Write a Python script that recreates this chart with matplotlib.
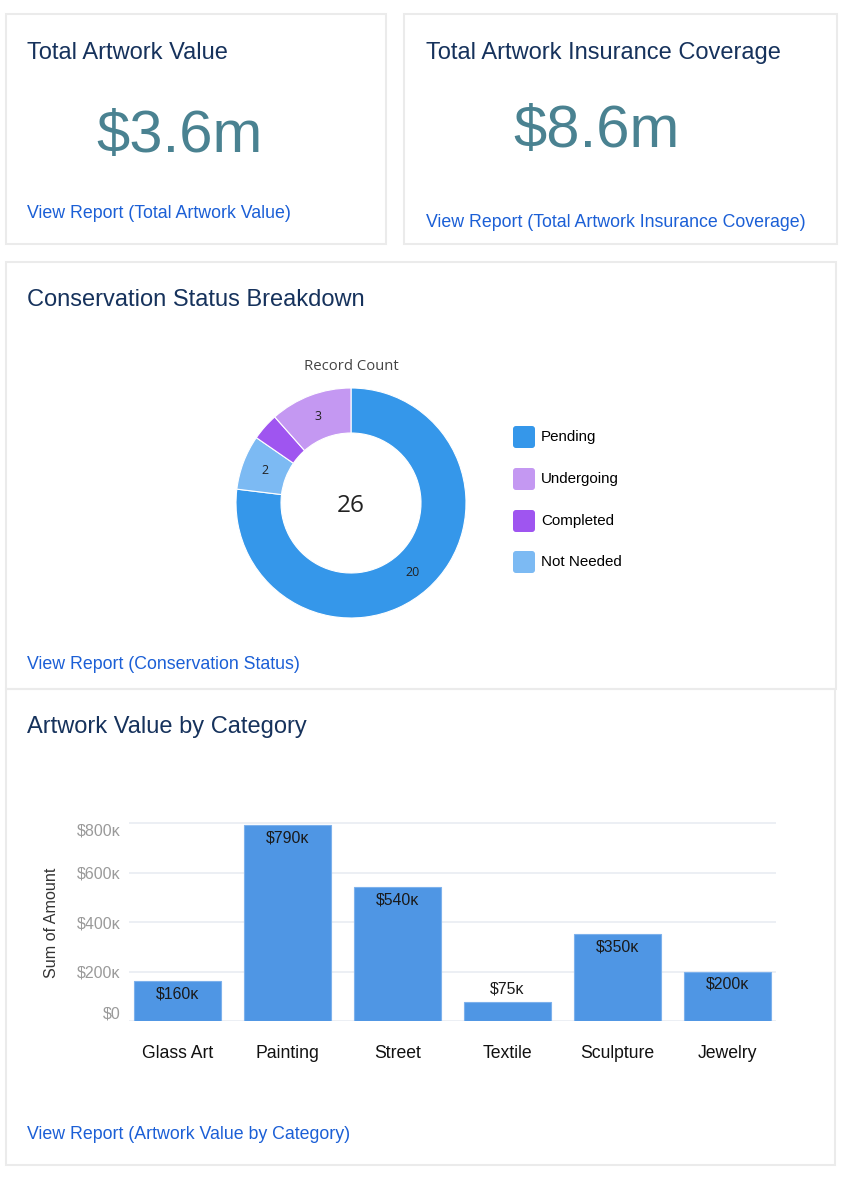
import matplotlib
matplotlib.use("Agg")
import matplotlib.pyplot as plt
import numpy as np
from matplotlib.patches import Rectangle, FancyBboxPatch

plt.rcParams['font.family'] = ['Liberation Sans', 'DejaVu Sans']

# ---------------- data ----------------
total_value_label = "$3.6m"
total_insurance_label = "$8.6m"

status_labels = ["Pending", "Undergoing", "Completed", "Not Needed"]
status_counts = [20, 3, 1, 2]
status_colors = ["#3597ea", "#c498f2", "#9f55f0", "#7cbaf3"]
pie_order = [0, 3, 2, 1]  # clockwise from 12 o'clock

categories = ["Glass Art", "Painting", "Street", "Textile", "Sculpture", "Jewelry"]
amounts = [160000, 790000, 540000, 75000, 350000, 200000]
ytick_values = [0, 200000, 400000, 600000, 800000]
ytick_labels = ["$0", "$200ᴋ", "$400ᴋ", "$600ᴋ", "$800ᴋ"]
bar_labels = ["$160ᴋ", "$790ᴋ", "$540ᴋ", "$75ᴋ", "$350ᴋ", "$200ᴋ"]

W, H = 868, 1182
fig = plt.figure(figsize=(W / 100, H / 100), dpi=100)
fig.patch.set_facecolor("white")

# overlay axes in pixel coordinates
bg = fig.add_axes([0, 0, 1, 1])
bg.set_xlim(0, W)
bg.set_ylim(H, 0)
bg.axis("off")

TITLE = "#16325c"
BIG = "#4a8291"
LINK = "#1b5fd6"
BORDER = "#ebebeb"

for (x, y, w, h) in [(6, 14, 380, 230), (404, 14, 433, 230), (6, 262, 830, 427), (6, 689, 829, 476)]:
    bg.add_patch(Rectangle((x, y), w, h, fill=False, edgecolor=BORDER, linewidth=1.5))

TS = 17.0
LS = 12.8
# card 1
bg.text(27, 59, "Total Artwork Value", color=TITLE, fontsize=TS, va="baseline", ha="left")
bg.text(180, 152, total_value_label, color=BIG, fontsize=43, va="baseline", ha="center")
bg.text(27, 218, "View Report (Total Artwork Value)", color=LINK, fontsize=LS, va="baseline", ha="left")
# card 2
bg.text(426, 59, "Total Artwork Insurance Coverage", color=TITLE, fontsize=TS, va="baseline", ha="left")
bg.text(597, 147, total_insurance_label, color=BIG, fontsize=43, va="baseline", ha="center")
bg.text(426, 227, "View Report (Total Artwork Insurance Coverage)", color=LINK, fontsize=LS, va="baseline", ha="left")
# card 3
bg.text(27, 306, "Conservation Status Breakdown", color=TITLE, fontsize=TS, va="baseline", ha="left")
bg.text(351, 370, "Record Count", color="#444444", fontsize=10.7, va="baseline", ha="center",
        family=["Open Sans", "DejaVu Sans"])
bg.text(27, 669, "View Report (Conservation Status)", color=LINK, fontsize=LS, va="baseline", ha="left")
# card 4
bg.text(27, 733, "Artwork Value by Category", color=TITLE, fontsize=TS, va="baseline", ha="left")
bg.text(27, 1139, "View Report (Artwork Value by Category)", color=LINK, fontsize=LS, va="baseline", ha="left")
bg.text(52, 923, "Sum of Amount", color="#333333", fontsize=11.6, rotation=90, va="center", ha="center")

# legend (manual rounded squares)
leg_y = [437, 479, 521, 562]
for i, (lab, col) in enumerate(zip(status_labels, status_colors)):
    bg.add_patch(FancyBboxPatch((515, leg_y[i] - 9), 18, 18, boxstyle="round,pad=2,rounding_size=3",
                                facecolor=col, edgecolor="none"))
    bg.text(541, leg_y[i], lab, color="#000000", fontsize=10.9, va="center", ha="left")

# ---------------- donut ----------------
cx, cy, box = 351, 503, 240
R = 115.0
ax_p = fig.add_axes([(cx - box / 2) / W, 1 - (cy + box / 2) / H, box / W, box / H])
vals = [status_counts[i] for i in pie_order]
cols = [status_colors[i] for i in pie_order]
ring = (115 - 70) / R
wedges, _ = ax_p.pie(vals, colors=cols, startangle=90, counterclock=False, radius=1.0,
                     wedgeprops=dict(width=ring, edgecolor="white", linewidth=0.8))
ax_p.set_xlim(-box / 2 / R, box / 2 / R)
ax_p.set_ylim(-box / 2 / R, box / 2 / R)
ax_p.set_aspect("equal")
mid_r = 1 - ring / 2
for w, v in zip(wedges, vals):
    if v < 2:
        continue
    ang = np.deg2rad((w.theta1 + w.theta2) / 2)
    ax_p.text(mid_r * np.cos(ang), mid_r * np.sin(ang), str(v), ha="center", va="center",
              fontsize=9, color="#222222", family=["Open Sans", "DejaVu Sans"])
ax_p.text(0, -3 / R, str(sum(status_counts)), ha="center", va="center", fontsize=17.5, color="#222222",
          family=["Open Sans", "DejaVu Sans"])

# ---------------- bars ----------------
left, right, base, top = 129, 776, 1021, 810
ax_b = fig.add_axes([left / W, 1 - base / H, (right - left) / W, (base - top) / H])
ax_b.set_facecolor("none")
x = np.arange(len(categories))
ax_b.bar(x, amounts, width=0.79, color="#4f96e4", edgecolor="#7db1ec", linewidth=0.8, zorder=3)
ax_b.set_xlim(-0.44, len(categories) - 1 + 0.44)
px_per_200k = 49.5
ax_b.set_ylim(0, (base - top) / px_per_200k * 200000)
for s in ax_b.spines.values():
    s.set_visible(False)
ax_b.set_yticks(ytick_values)
ax_b.set_yticklabels(ytick_labels)
ax_b.yaxis.grid(True, color="#eaeef3", linewidth=1.3, zorder=0)
ax_b.set_axisbelow(True)
ax_b.tick_params(axis="y", length=0, pad=6, labelsize=11.5, labelcolor="#9a9a9a")
ax_b.set_xticks(x)
ax_b.set_xticklabels(categories)
ax_b.tick_params(axis="x", length=0, pad=17, labelsize=12.7, labelcolor="#111111")
ylabs = ax_b.get_yticklabels()
ylabs[0].set_verticalalignment("bottom")
ylabs[-1].set_verticalalignment("top")

for xi, v, lab in zip(x, amounts, bar_labels):
    off = -13 if v >= 100000 else 13
    ax_b.annotate(lab, (xi, v), xytext=(0, off), textcoords="offset pixels", ha="center", va="center",
                  fontsize=11.4, color="#1a1a1a", zorder=4)

fig.savefig("out.png", dpi=100, facecolor="white")
